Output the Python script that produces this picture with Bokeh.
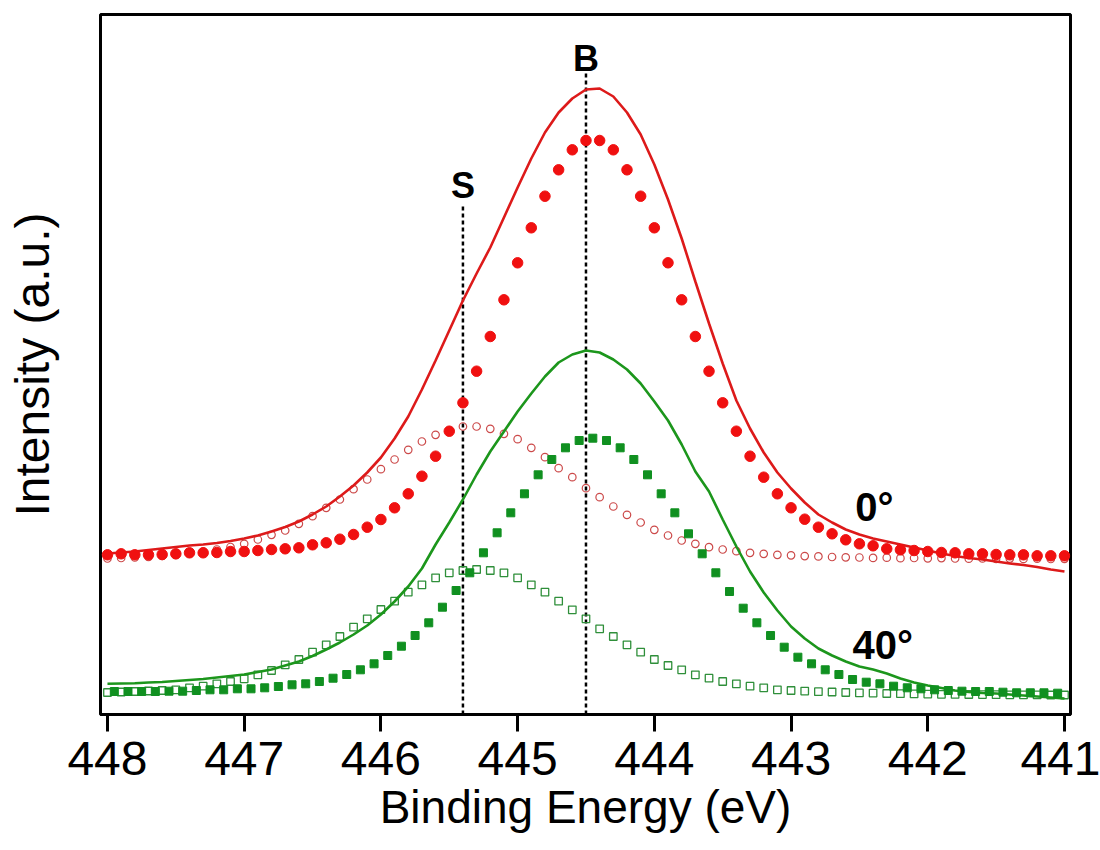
import numpy as np
from bokeh.plotting import figure
from bokeh.models import Range1d, FixedTicker, ColumnDataSource
from bokeh.core.properties import value
from bokeh.embed import file_html
from bokeh.resources import INLINE

# Binding-energy grids (eV): the 40-degree filled series is sampled half a step off
energy = np.round(448.0 - 0.1 * np.arange(71), 2)
energy_half = np.round(447.95 - 0.1 * np.arange(70), 2)

# 0 deg spectrum: envelope (line), bulk component (filled), surface component (open)
red_envelope = [161, 162, 163, 164.5, 166, 167.5, 169, 170, 171.5, 173.5,
                176, 179, 183, 187.5, 193, 200, 208, 218, 229, 242,
                257, 276, 298, 325, 354, 384, 414, 441, 467, 497,
                527, 556, 582, 602, 616, 625, 626, 618, 602, 580,
                550, 515, 476, 433, 391, 351, 314, 286, 262, 242,
                226, 212, 200, 192, 185, 180, 176, 173, 170, 167,
                164, 161, 158.5, 156.5, 155, 153, 151, 149.5, 147.5, 145, 143]
red_bulk = [159.7, 160.7, 159.7, 159.7, 160, 160.7, 161.7, 161.7, 162, 163,
            163, 164, 165, 165.7, 166.7, 169.7, 171.7, 175.3, 180, 187.3,
            195, 206.7, 220.7, 238.3, 258.3, 283.3, 311.7, 343.3, 378, 414.7,
            451.7, 486.7, 518.3, 544.7, 564.7, 574, 574, 564.7, 544.7, 518.3,
            486.7, 451.7, 414.7, 378, 343.3, 311.7, 283.3, 258.3, 237.3, 220.7,
            206.7, 195.3, 187.3, 180.7, 174.7, 170.7, 168.7, 165.7, 164.7, 164,
            163, 162, 161.7, 160.7, 160.7, 160, 159.7, 159.7, 158.7, 158.7, 158.7]
red_surface = [156, 156.5, 157, 157.5, 158.5, 159.5, 161, 163, 165, 167.5,
               170.7, 175, 179.7, 184, 190.7, 198.3, 206.7, 215, 225.3, 235,
               245.3, 255, 264.7, 273, 279.7, 284, 288, 288, 285.7, 280.7,
               275.3, 266.7, 257.3, 246.3, 237.3, 226.3, 217.3, 208, 199.7, 192,
               184.7, 179, 174, 170.7, 167.3, 165, 163.3, 161.7, 160.7, 159.7,
               159.2, 158.4, 158.1, 157.5, 157.2, 157, 156.6, 156.8, 156.3, 156.5,
               156.2, 156.4, 156, 155.8, 156.1, 155.7, 155.9, 155.6, 155.8, 155.5, 155.7]

# 40 deg spectrum
green_envelope = [30.7, 31, 31.3, 32, 32.5, 33.5, 34.5, 35.5, 37, 38.5,
                  40, 42.5, 45, 49, 53, 58.5, 65, 72, 80, 89,
                  100, 113, 128, 146, 170, 192, 215, 240, 263, 283,
                  303, 321, 338, 352, 360, 364, 362, 355, 345, 331,
                  313, 294, 270, 243, 223, 195, 168, 143, 122, 104,
                  88, 76, 66, 59, 53, 48, 45, 41, 36, 32,
                  29, 26.5, 24, 22.5, 21.5, 21, 20, 19, 18, 17, 16]
green_bulk = [23, 23, 23, 23, 23.3, 23.3, 24, 24.7, 24.7, 25.7,
              25.7, 26.7, 28, 29.7, 30.7, 33, 36.3, 40, 44.7, 50.7,
              59, 68.3, 79, 91.7, 107.3, 124, 141.7, 161.7, 181.7, 201.7,
              220.7, 239.7, 255, 266.7, 274, 276.3, 274, 266.7, 255, 239.7,
              220.7, 201.7, 180.7, 160.7, 141.7, 123, 106.3, 91.7, 79, 67.3,
              57.3, 50.7, 44.7, 40, 35, 32.3, 30.7, 28.3, 26.7, 25.7,
              24.7, 24, 23.3, 23, 23, 22.3, 21.7, 21.7, 21.7, 21.3]
green_surface = [22, 22.5, 23, 23.5, 24, 24.7, 26.7, 28.3, 30.7, 33,
                 35.7, 39.7, 44, 49.7, 55, 62.3, 69.7, 78, 87.3, 95.7,
                 105, 113.3, 122.3, 129.7, 136.7, 141.7, 144, 145, 144, 141.7,
                 136.7, 129.7, 122.3, 113.3, 104.7, 95.7, 85.7, 78, 69.7, 62.3,
                 55, 49, 44.7, 39.7, 36.3, 33, 30.7, 28.3, 26.7, 24.7,
                 24, 23.4, 22.8, 22.5, 22, 21.6, 21.4, 21, 20.8, 20.6,
                 20.4, 20.2, 20.1, 20, 19.9, 19.8, 19.7, 19.6, 19.6, 19.5, 19.5]

# Surface (S) and bulk (B) component positions
ref_names = ["S", "B"]
ref_energy = [445.40, 444.50]
ref_top = [509, 642]
ref_label_y = [529, 656]

# Take-off angle labels
angle_text = ["0°", "40°"]
angle_energy = [442.39, 442.33]
angle_y = [208, 70]

x_ticks = [448, 447, 446, 445, 444, 443, 442, 441]

FONT = "Liberation Sans"
RED_LINE = "#dd1a1a"
RED_DOT = "#f01010"
RED_OPEN = "#cc4a4a"
GREEN_LINE = "#1c961c"
GREEN_DOT = "#109020"
GREEN_OPEN = "#2f8f3a"

p = figure(frame_width=970, frame_height=700,
           x_range=Range1d(448.051, 440.956), y_range=Range1d(0, 700),
           output_backend="svg", toolbar_location=None,
           min_border_left=100, min_border_right=30,
           min_border_top=14, min_border_bottom=136,
           background_fill_color="white", border_fill_color="white")

p.xgrid.visible = False
p.ygrid.visible = False
p.outline_line_color = "black"
p.outline_line_width = 3
p.outline_line_alpha = 1.0

xa = p.xaxis[0]
xa.ticker = FixedTicker(ticks=x_ticks)
xa.axis_line_color = "black"
xa.axis_line_width = 3
xa.major_tick_line_color = "black"
xa.major_tick_line_width = 3
xa.major_tick_out = 17
xa.major_tick_in = 0
xa.minor_tick_line_color = None
xa.major_label_text_font = FONT
xa.major_label_text_font_size = "48px"
xa.major_label_text_color = "black"
xa.major_label_standoff = 10
xa.axis_label = "Binding Energy (eV)"
xa.axis_label_text_font = FONT
xa.axis_label_text_font_size = "46px"
xa.axis_label_text_font_style = "normal"
xa.axis_label_text_color = "black"
xa.axis_label_standoff = 3

ya = p.yaxis[0]
ya.ticker = FixedTicker(ticks=[])
ya.axis_line_color = None
ya.major_tick_line_color = None
ya.minor_tick_line_color = None
ya.major_tick_out = 0
ya.major_label_standoff = 0
ya.axis_label = "Intensity (a.u.)"
ya.axis_label_text_font = FONT
ya.axis_label_text_font_size = "48px"
ya.axis_label_text_font_style = "normal"
ya.axis_label_text_color = "black"
ya.axis_label_standoff = 42

# Component reference lines
refs = ColumnDataSource(dict(x=ref_energy, top=ref_top, base=[0, 0],
                             name=ref_names, ly=ref_label_y))
p.segment(x0="x", y0="base", x1="x", y1="top", source=refs,
          line_color="black", line_width=2.5, line_dash="4 3")
p.text(x="x", y="ly", text="name", source=refs,
       text_font=value(FONT), text_font_size="36px", text_font_style="bold",
       text_align="center", text_baseline="alphabetic", text_color="black")

# Surface components (open symbols)
p.scatter(energy, red_surface, marker="circle", size=7.5,
          fill_color=None, line_color=RED_OPEN, line_width=1.2)
p.scatter(energy, green_surface, marker="square", size=7.5,
          fill_color=None, line_color=GREEN_OPEN, line_width=1.3)

# Measured envelopes
p.line(energy, red_envelope, line_color=RED_LINE, line_width=2.6)
p.line(energy, green_envelope, line_color=GREEN_LINE, line_width=2.6)

# Bulk components (filled symbols)
p.scatter(energy, red_bulk, marker="circle", size=10.5,
          fill_color=RED_DOT, line_color=RED_DOT)
p.scatter(energy_half, green_bulk, marker="square", size=8,
          fill_color=GREEN_DOT, line_color=GREEN_DOT)

angles = ColumnDataSource(dict(x=angle_energy, y=angle_y, t=angle_text))
p.text(x="x", y="y", text="t", source=angles,
       text_font=value(FONT), text_font_size="40px", text_font_style="bold",
       text_align="center", text_baseline="alphabetic", text_color="black")

open("out.html", "w").write(file_html(p, INLINE))
